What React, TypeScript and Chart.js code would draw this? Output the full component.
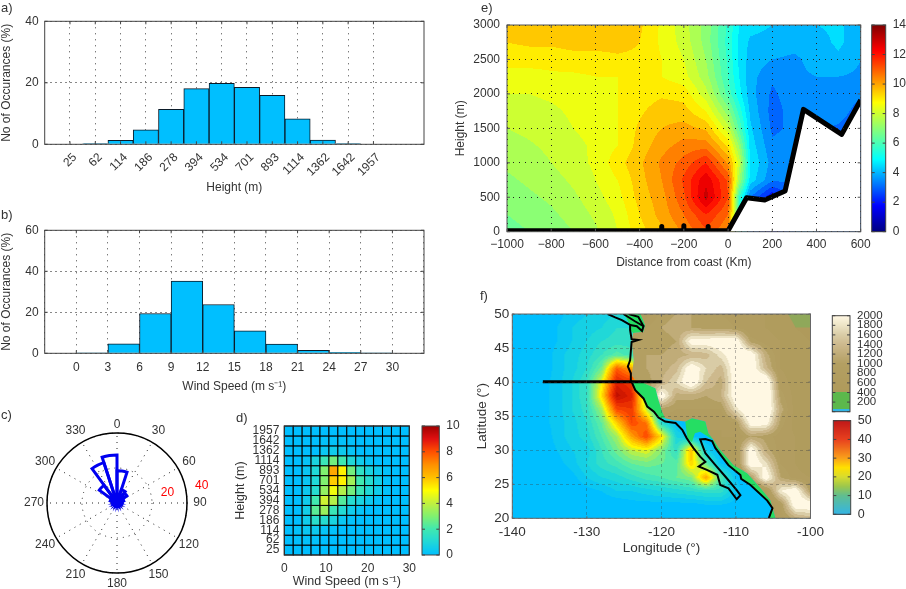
import React, { useEffect, useRef } from "react";
import { Chart, registerables } from "chart.js";

Chart.register(...registerables);

const PW = 906;
const PH = 589;
const FONT = "'Liberation Sans', Arial, Helvetica, sans-serif";
const INK = "#333333";
Chart.defaults.font.family = FONT;
Chart.defaults.color = INK;

// ---- a) height histogram
const heightBins = ["25", "62", "114", "186", "278", "394", "534", "701", "893", "1114", "1362", "1642", "1957"];
const heightPct = [0, 0.2, 1.3, 4.7, 11.4, 18.1, 19.8, 18.5, 15.9, 8.3, 1.4, 0.2, 0];

// ---- b) wind speed histogram
const speedBinCentres = [1.5, 4.5, 7.5, 10.5, 13.5, 16.5, 19.5, 22.5, 25.5, 28.5];
const speedPct = [0.2, 4.6, 19.4, 35.2, 23.8, 11, 4.5, 1.5, 0.5, 0.1];

// ---- c) wind rose, 18 degree bins clockwise from north
const roseBins = [0, 18, 36, 54, 72, 90, 108, 126, 144, 162, 180, 198, 216, 234, 252, 270, 288, 306, 324, 342];
const rosePct = [18.5, 8, 7, 4, 3, 2.5, 2.5, 2, 2, 2, 2, 2, 2, 2, 2.5, 2.5, 4, 12.5, 24.3, 27.5];
const roseSpokes = [0, 30, 60, 90, 120, 150, 180, 210, 240, 270, 300, 330];

// ---- d) joint occurrence, rows from 25 m upward, 14 speed columns
const jointRows = [
  [0, 0, 0, 0, 0, 0, 0, 0, 0, 0, 0, 0, 0, 0],
  [0, 0.05, 0.1, 0.1, 0, 0, 0, 0, 0, 0, 0, 0, 0, 0],
  [0, 0.1, 0.3, 0.4, 0.2, 0.1, 0, 0, 0, 0, 0, 0, 0, 0],
  [0, 0, 0.5, 1.3, 1.2, 0.8, 0.3, 0.1, 0, 0, 0, 0, 0, 0],
  [0, 0, 0.6, 2.4, 3.4, 1.8, 1.1, 0.5, 0.2, 0, 0, 0, 0, 0],
  [0, 0, 0.5, 2, 4.2, 3.8, 2.3, 1.2, 0.8, 0.4, 0.1, 0, 0, 0],
  [0, 0, 0.4, 1.2, 3.3, 4.8, 3.8, 2.8, 1.8, 1, 0.5, 0.1, 0, 0],
  [0, 0, 0.3, 1, 3, 5.8, 5.2, 3.5, 2, 1.2, 0.6, 0.1, 0, 0],
  [0, 0, 0.3, 1, 3, 6.5, 5.2, 2.8, 1.5, 0.8, 0.4, 0.1, 0, 0],
  [0, 0, 0.2, 0.8, 1.8, 2.8, 2, 1, 0.5, 0.2, 0, 0, 0, 0],
  [0, 0, 0, 0, 0.3, 0.5, 0.4, 0.2, 0, 0, 0, 0, 0, 0],
  [0, 0, 0, 0, 0.1, 0.1, 0.1, 0.1, 0, 0, 0, 0, 0, 0],
  [0, 0, 0, 0, 0, 0, 0, 0, 0, 0, 0, 0, 0, 0],
];

// ---- e) cross section
const sectionX = [-1000, -900, -800, -700, -600, -500, -400, -300, -200, -100, 0, 50, 100, 200, 300, 400, 500, 600];
const sectionY = [3000, 2750, 2500, 2250, 2000, 1750, 1500, 1250, 1000, 750, 500, 250, 0];
const sectionWind = [
  [9.7, 9.7, 9.7, 9.7, 9.7, 9.7, 9.6, 8.9, 8.2, 7.3, 5.9, 5.0, 4.7, 4.5, 4.2, 4.5, 4.6, 4.2],
  [9.5, 9.6, 9.6, 9.7, 9.7, 9.7, 9.5, 8.9, 8.3, 7.3, 5.8, 4.9, 4.4, 4.3, 4.2, 4.3, 4.6, 4.2],
  [9.2, 9.2, 9.2, 9.3, 9.3, 9.4, 9.4, 9.0, 8.5, 7.5, 5.9, 4.9, 4.3, 4.0, 3.9, 4.2, 4.4, 4.0],
  [8.8, 8.8, 8.9, 8.9, 9.0, 9.0, 9.1, 9.0, 8.7, 7.7, 6.0, 5.0, 4.2, 3.6, 3.9, 4.0, 4.0, 3.9],
  [8.5, 8.5, 8.6, 8.7, 8.8, 9.0, 9.2, 9.4, 9.3, 8.2, 6.3, 5.2, 4.2, 3.4, 3.8, 3.9, 3.9, 3.6],
  [8.25, 8.3, 8.4, 8.6, 8.8, 9.0, 9.4, 9.8, 9.7, 9.0, 7.2, 5.8, 4.4, 3.3, 3.7, 3.8, 3.8, 3.2],
  [8.0, 8.1, 8.25, 8.5, 8.7, 9.0, 9.6, 10.0, 10.2, 9.9, 8.2, 6.4, 4.6, 3.4, 3.6, 3.6, 3.4, 3.0],
  [7.85, 7.95, 8.1, 8.35, 8.6, 9.0, 9.7, 10.3, 10.7, 10.8, 9.4, 7.4, 4.8, 3.6, 3.7, 3.5, 3.3, 3.0],
  [7.6, 7.8, 8.0, 8.3, 8.6, 9.3, 9.9, 10.6, 11.2, 12.0, 10.4, 8.3, 5.0, 3.8, 3.7, 3.5, 3.3, 3.0],
  [7.4, 7.6, 7.8, 8.1, 8.5, 9.0, 9.8, 10.5, 11.6, 12.9, 11.4, 7.6, 4.8, 3.6, 3.6, 3.5, 3.3, 3.0],
  [7.2, 7.4, 7.6, 7.9, 8.3, 8.8, 9.7, 10.3, 11.4, 13.2, 11.5, 6.0, 3.5, 2.0, 3.5, 3.5, 3.3, 3.0],
  [7.0, 7.2, 7.4, 7.7, 8.1, 8.6, 9.5, 10.2, 11.0, 12.0, 11.0, 6.0, 3.5, 2.0, 3.5, 3.5, 3.3, 3.0],
  [6.8, 7.0, 7.2, 7.5, 7.9, 8.5, 9.3, 9.9, 10.6, 11.4, 10.5, 6.0, 3.5, 2.0, 3.5, 3.5, 3.3, 3.0],
];
const terrainX = [-1000, -300, -300, -300, -200, -200, -200, -90, -90, -90, 0, 84, 166, 258, 341, 514, 600];
const terrainH = [15, 15, 76, 15, 15, 85, 15, 15, 76, 15, 15, 494, 460, 590, 1775, 1413, 1911];

// ---- f) map
const mapLon = [-140, -138, -136, -134, -132, -130, -128, -126, -124, -122, -120, -118, -116, -114, -112, -110, -108, -106, -104, -102, -100];
const mapLat = [50, 48, 46, 44, 42, 40, 38, 36, 34, 32, 30, 28, 26, 24, 22, 20];
const mapWind = [
  [0, 0, 0, 1, 3, 4, 5, 6, 6, 4, 0, 0, 0, 0, 0, 0, 0, 0, 0, 0, 0],
  [0, 0, 0, 2, 4, 5, 6, 8, 8, 4, 0, 0, 0, 0, 0, 0, 0, 0, 0, 0, 0],
  [0, 0, 0, 2, 4, 6, 8, 9, 9, 4, 0, 0, 0, 0, 0, 0, 0, 0, 0, 0, 0],
  [0, 0, 0, 3, 5, 7, 10, 13, 11, 4, 0, 0, 0, 0, 0, 0, 0, 0, 0, 0, 0],
  [0, 0, 0, 3, 5, 8, 15, 36, 30, 4, 0, 0, 0, 0, 0, 0, 0, 0, 0, 0, 0],
  [0, 0, 1, 3, 6, 10, 22, 43, 40, 10, 0, 0, 0, 0, 0, 0, 0, 0, 0, 0, 0],
  [0, 0, 1, 3, 6, 10, 25, 47, 43, 15, 0, 0, 0, 0, 0, 0, 0, 0, 0, 0, 0],
  [0, 0, 1, 3, 6, 9, 18, 38, 40, 20, 4, 0, 0, 0, 0, 0, 0, 0, 0, 0, 0],
  [0, 0, 1, 3, 5, 8, 14, 26, 38, 34, 8, 2, 0, 0, 0, 0, 0, 0, 0, 0, 0],
  [0, 0, 0, 3, 5, 7, 12, 18, 30, 38, 25, 6, 2, 0, 0, 0, 0, 0, 0, 0, 0],
  [0, 0, 0, 2, 4, 5, 10, 15, 20, 22, 16, 9, 28, 4, 0, 0, 0, 0, 0, 0, 0],
  [0, 0, 0, 1, 3, 6, 9, 11, 14, 15, 14, 13, 26, 14, 2, 0, 0, 0, 0, 0, 0],
  [0, 0, 0, 0, 1, 4, 6, 7, 9, 11, 12, 14, 16, 30, 12, 2, 0, 0, 0, 0, 0],
  [0, 0, 0, 0, 0, 1, 2, 4, 4, 5, 6, 7, 8, 9, 9, 3, 0, 0, 0, 0, 0],
  [0, 0, 0, 0, 0, 0, 0, 0, 1, 1, 1, 1, 1, 2, 2, 1, 0, 0, 0, 0, 0],
  [0, 0, 0, 0, 0, 0, 0, 0, 0, 0, 0, 0, 0, 0, 0, 0, 0, 0, 0, 0, 0],
];
const landLon = [-124, -122, -120, -118, -116, -114, -112, -110, -108, -106, -104, -102, -100];
const landElev = [
  [700, 700, 1100, 1200, 1200, 1100, 1000, 900, 800, 800, 700, 600, 500],
  [700, 1000, 1200, 1300, 1200, 1100, 1100, 1000, 800, 800, 700, 600, 500],
  [1000, 1100, 1100, 1200, 2200, 2200, 2300, 2300, 1100, 900, 800, 700, 600],
  [1000, 1200, 1200, 1300, 1400, 1500, 1900, 2300, 2300, 1300, 800, 700, 600],
  [1000, 1200, 1300, 1500, 2300, 1800, 1500, 2300, 2300, 1500, 800, 700, 600],
  [900, 1100, 1400, 1800, 2400, 1600, 1300, 2300, 2500, 2500, 900, 700, 600],
  [600, 800, 2300, 1300, 1300, 1200, 1400, 2300, 2500, 2500, 1100, 700, 600],
  [500, 500, 1100, 1000, 1000, 1000, 1000, 1900, 2500, 2500, 1300, 700, 600],
  [500, 500, 800, 900, 900, 900, 800, 1000, 2200, 2200, 1100, 700, 600],
  [500, 500, 500, 500, 700, 700, 800, 800, 1200, 1100, 900, 800, 700],
  [500, 500, 500, 500, 500, 500, 600, 800, 2300, 1300, 900, 800, 600],
  [500, 500, 500, 500, 500, 500, 500, 700, 2300, 1900, 1000, 800, 600],
  [500, 500, 500, 500, 500, 500, 500, 500, 1100, 2300, 1200, 900, 800],
  [500, 500, 500, 500, 500, 500, 500, 500, 500, 700, 2000, 2300, 1100],
  [500, 500, 500, 500, 500, 500, 500, 500, 500, 500, 1000, 2300, 2300],
  [500, 500, 500, 500, 500, 500, 500, 500, 500, 500, 900, 1300, 1500],
];
const coastLon = [-127.2, -126.2, -125.3, -124.2, -124.2, -124, -123.1, -124, -124.2, -124.5, -124.1, -124.1, -123.5, -122.4, -121.9, -121, -120.4, -119.5, -118.1, -117.2, -116.6, -115.7, -114.8, -114.1, -115, -113.9, -112.5, -112.1, -111, -109.9, -109.4, -109.9, -111.4, -112.75, -114.1, -114.8, -114.1, -113.2, -112.75, -111, -109.4, -109.3, -108.05, -105.8, -105.1, -105.6];
const coastLat = [50, 49.5, 49.1, 48.4, 47.65, 46.3, 46.2, 45.9, 43.2, 42.3, 41.3, 40.3, 38.8, 37.6, 36.4, 35.65, 34.8, 34.2, 34, 33, 31.75, 30.3, 29.05, 28.3, 27.6, 27.1, 26.4, 24.9, 24.4, 22.8, 23.4, 24.15, 26.1, 27.8, 29.55, 31.6, 31.65, 31.35, 30.3, 27.8, 26.35, 25.8, 24.9, 22.6, 21.5, 20];
const inletLon = [-125.1, -123.5, -122.4, -122.6, -123.3, -124.2];
const inletLat = [50, 48.9, 48.2, 47.5, 48.2, 48.4];
const inlet2Lon = [-124.4, -123.1, -122.4];
const inlet2Lat = [50, 49.6, 48.2];
const transectLon = [-135.9, -119.9];
const transectLat = [40.05, 40.05];
const tanEdge: number[][] = [[-122.8, 50], [-122.2, 48.4], [-122.4, 47.4], [-123.8, 47.2], [-124, 46], [-123.7, 43.2], [-124, 41], [-123.5, 40.3], [-122.8, 40.05], [-120.8, 39.1], [-120.4, 37.4], [-119.9, 35.65], [-119.5, 34.7], [-118.4, 34.4], [-116.8, 34.2], [-115.9, 34.7], [-114.1, 34.2], [-113.7, 32.5], [-113, 31.5], [-112.3, 30.3], [-110.3, 27.8], [-108.5, 26.6], [-106.7, 24.4], [-105.4, 22.7], [-104.7, 20], [-100, 20], [-100, 50]];
const lowlands: number[][][] = [
  [[-125, 50], [-122.8, 50], [-122.2, 48.4], [-122.4, 47.4], [-123.8, 47.2], [-124.2, 47.7], [-124.2, 48.4]],
  [[-124.1, 40.3], [-122.8, 40.05], [-120.8, 39.1], [-120.4, 37.4], [-119.9, 35.65], [-119.5, 34.7], [-120.4, 34.8], [-121, 35.65], [-121.9, 36.4], [-122.4, 37.6], [-123.5, 38.8]],
  [[-116.8, 34.2], [-115.9, 34.7], [-114.1, 34.2], [-113.7, 32.5], [-113, 31.5], [-114.8, 32.7], [-115.5, 32.5], [-115.9, 31.2], [-116.5, 31.75]],
  [[-113, 31.5], [-112.3, 30.3], [-110.3, 27.8], [-108.5, 26.6], [-106.7, 24.4], [-105.4, 22.7], [-104.7, 20], [-105.6, 20], [-105.1, 21.5], [-105.8, 22.6], [-108.05, 24.9], [-109.3, 25.8], [-109.4, 26.35], [-111, 27.8], [-112.75, 30.3], [-113.2, 31.35]],
  [[-101.5, 30], [-100, 30.2], [-100, 26.2], [-100.8, 27.5]],
  [[-120.7, 47.2], [-119.7, 47.9], [-118.7, 47.2], [-119.7, 46.5]],
];
const prairie: number[][] = [[-103, 50], [-100, 50], [-100, 48], [-102, 48]];

// ---- colour tables: [value, hex]
type Stop = [number, string];
const jetStops: Stop[] = [[0, "#000080"], [1.75, "#0000ff"], [4.9, "#00ffff"], [8.75, "#ffff00"], [12.25, "#ff0000"], [14, "#800000"]];
const jointStops: Stop[] = [[0, "#00bfff"], [1, "#20d8d8"], [2, "#40e8b0"], [3, "#80f070"], [4, "#c0f040"], [5, "#ffff00"], [6, "#ffc000"], [7, "#ff9000"], [8, "#ff5000"], [9, "#e01010"], [10, "#a00000"]];
const windStops: Stop[] = [[0, "#00bfff"], [6, "#20d8d8"], [12, "#55eba8"], [18, "#b0f050"], [22, "#fff500"], [28, "#ffb000"], [36, "#ff5000"], [42, "#e02000"], [50, "#a00000"]];
const windBarStops: Stop[] = [[0, "#33b5e5"], [10, "#60be8f"], [15, "#9dc74b"], [20, "#d8dc2e"], [25, "#ffe000"], [30, "#f9a01a"], [40, "#e8401e"], [50, "#c01818"]];
const landStops: Stop[] = [[400, "#af9a5b"], [1000, "#b39f62"], [1200, "#c0ac78"], [1400, "#cdb98d"], [1600, "#d9cca6"], [1800, "#ede4c6"], [2000, "#fff8e3"]];
const elevBarStops: Stop[] = [[0, "#33b5e5"], [50, "#33b5e5"], [50, "#5cb84c"], [400, "#5cb84c"], [400, "#af9a5b"], [1000, "#b39f62"], [1200, "#c0ac78"], [1400, "#cdb98d"], [1600, "#d9cca6"], [1800, "#ede4c6"], [2000, "#fff8e3"]];

function rgb(hex: string): number[] {
  return [parseInt(hex.slice(1, 3), 16), parseInt(hex.slice(3, 5), 16), parseInt(hex.slice(5, 7), 16)];
}
function colourAt(stops: Stop[], v: number): number[] {
  if (v <= stops[0][0]) return rgb(stops[0][1]);
  for (let i = 1; i < stops.length; i++) {
    if (v <= stops[i][0]) {
      const [a, ca] = stops[i - 1];
      const [b, cb] = stops[i];
      const t = b === a ? 1 : (v - a) / (b - a);
      const p = rgb(ca);
      const q = rgb(cb);
      return [p[0] + (q[0] - p[0]) * t, p[1] + (q[1] - p[1]) * t, p[2] + (q[2] - p[2]) * t];
    }
  }
  return rgb(stops[stops.length - 1][1]);
}
function css(c: number[]) {
  return `rgb(${Math.round(c[0])},${Math.round(c[1])},${Math.round(c[2])})`;
}
function seg(a: number[], v: number): [number, number] {
  const n = a.length;
  const asc = a[n - 1] > a[0];
  for (let i = 0; i < n - 1; i++) {
    const lo = a[i];
    const hi = a[i + 1];
    if (asc ? v <= hi : v >= hi) {
      const t = (v - lo) / (hi - lo);
      return [i, Math.max(0, Math.min(1, t))];
    }
  }
  return [n - 2, 1];
}
function sample(xs: number[], ys: number[], rows: number[][], x: number, y: number) {
  const [i, tx] = seg(xs, x);
  const [j, ty] = seg(ys, y);
  const top = rows[j][i] * (1 - tx) + rows[j][i + 1] * tx;
  const bot = rows[j + 1][i] * (1 - tx) + rows[j + 1][i + 1] * tx;
  return top * (1 - ty) + bot * ty;
}
function paintField(chart: any, xs: number[], ys: number[], rows: number[][], stops: Stop[], step: number) {
  const { left, top, width, height } = chart.chartArea;
  const w = Math.ceil(width);
  const h = Math.ceil(height);
  const off = document.createElement("canvas");
  off.width = w;
  off.height = h;
  const octx = off.getContext("2d")!;
  const img = octx.createImageData(w, h);
  const sx = chart.scales.x;
  const sy = chart.scales.y;
  for (let py = 0; py < h; py++) {
    const vy = sy.getValueForPixel(top + py + 0.5);
    for (let px = 0; px < w; px++) {
      const vx = sx.getValueForPixel(left + px + 0.5);
      const v = sample(xs, ys, rows, vx, vy);
      const c = colourAt(stops, Math.floor(v / step) * step);
      const k = (py * w + px) * 4;
      img.data[k] = c[0];
      img.data[k + 1] = c[1];
      img.data[k + 2] = c[2];
      img.data[k + 3] = 255;
    }
  }
  octx.putImageData(img, 0, 0);
  return off;
}
function gridPoints(xs: number[], ys: number[], rows: number[][]) {
  const out: any[] = [];
  rows.forEach((r, j) => r.forEach((v, i) => out.push({ x: xs[i], y: ys[j], v })));
  return out;
}
function zipXY(xs: number[], ys: number[]) {
  return xs.map((x, i) => ({ x, y: ys[i] }));
}
function tracePoly(chart: any, poly: number[][]) {
  const ctx = chart.ctx;
  ctx.beginPath();
  poly.forEach(([lon, lat], i) => {
    const x = chart.scales.x.getPixelForValue(lon);
    const y = chart.scales.y.getPixelForValue(lat);
    if (i) ctx.lineTo(x, y);
    else ctx.moveTo(x, y);
  });
  ctx.closePath();
}

// ---- plugins
function framePlugin(colour: string, tick = 3) {
  return {
    id: "frame",
    afterDraw(chart: any) {
      const { ctx, chartArea: a } = chart;
      ctx.save();
      ctx.strokeStyle = colour;
      ctx.lineWidth = 1;
      ctx.strokeRect(a.left, a.top, a.right - a.left, a.bottom - a.top);
      if (tick > 0) {
        const sx = chart.scales.x;
        const sy = chart.scales.y;
        ctx.beginPath();
        if (sx && sx.options.display) {
          sx.ticks.forEach((t: any, i: number) => {
            if (t.label === "") return;
            const x = sx.getPixelForTick(i);
            ctx.moveTo(x, a.bottom);
            ctx.lineTo(x, a.bottom - tick);
            ctx.moveTo(x, a.top);
            ctx.lineTo(x, a.top + tick);
          });
        }
        if (sy) {
          sy.ticks.forEach((t: any, i: number) => {
            const y = sy.getPixelForTick(i);
            ctx.moveTo(a.left, y);
            ctx.lineTo(a.left + tick, y);
            ctx.moveTo(a.right, y);
            ctx.lineTo(a.right - tick, y);
          });
        }
        ctx.stroke();
      }
      ctx.restore();
    },
  };
}
function colourbarPlugin(stops: Stop[]) {
  return {
    id: "colourbar",
    beforeDraw(chart: any) {
      const { ctx, chartArea: a } = chart;
      const sy = chart.scales.y;
      for (let py = Math.floor(a.top); py < a.bottom; py++) {
        ctx.fillStyle = css(colourAt(stops, sy.getValueForPixel(py + 0.5)));
        ctx.fillRect(a.left, py, a.right - a.left, 1);
      }
    },
  };
}
const cellPlugin = {
  id: "cells",
  beforeDraw(chart: any) {
    const { ctx } = chart;
    const sx = chart.scales.x;
    const sy = chart.scales.y;
    const cells = chart.data.datasets[0].data;
    const dx = 30 / jointRows[0].length;
    ctx.save();
    ctx.strokeStyle = "#000";
    ctx.lineWidth = 1;
    cells.forEach((c: any) => {
      const x0 = sx.getPixelForValue(c.x - dx / 2);
      const x1 = sx.getPixelForValue(c.x + dx / 2);
      const y0 = sy.getPixelForValue(c.y + 0.5);
      const y1 = sy.getPixelForValue(c.y - 0.5);
      ctx.fillStyle = css(colourAt(jointStops, c.v));
      ctx.fillRect(x0, y0, x1 - x0, y1 - y0);
      ctx.strokeRect(x0, y0, x1 - x0, y1 - y0);
    });
    ctx.restore();
  },
};
const sectionPlugin = {
  id: "section",
  beforeDraw(chart: any) {
    const off = paintField(chart, sectionX, sectionY, sectionWind, jetStops, 0.5);
    chart.ctx.drawImage(off, chart.chartArea.left, chart.chartArea.top);
  },
};
const mapPlugin = {
  id: "map",
  beforeDraw(chart: any) {
    const { ctx, chartArea: a } = chart;
    const sea = paintField(chart, mapLon, mapLat, mapWind, windStops, 2);
    const land = paintField(chart, landLon, mapLat, landElev, landStops, 200);
    ctx.save();
    ctx.beginPath();
    ctx.rect(a.left, a.top, a.right - a.left, a.bottom - a.top);
    ctx.clip();
    ctx.drawImage(sea, a.left, a.top);
    lowlands.forEach((p) => {
      tracePoly(chart, p);
      ctx.fillStyle = "#25de63";
      ctx.fill();
    });
    ctx.save();
    tracePoly(chart, tanEdge);
    ctx.clip();
    ctx.drawImage(land, a.left, a.top);
    ctx.restore();
    tracePoly(chart, prairie);
    ctx.fillStyle = "#8fa85a";
    ctx.fill();
    ctx.restore();
  },
};
const rosePlugin = {
  id: "rose",
  beforeDatasetsDraw(chart: any) {
    const { ctx } = chart;
    const r = chart.scales.r;
    const R = r.getDistanceFromCenterForValue(40);
    ctx.save();
    ctx.strokeStyle = "#222";
    ctx.lineWidth = 1;
    ctx.setLineDash([1, 5]);
    roseSpokes.forEach((d) => {
      const t = (d * Math.PI) / 180;
      ctx.beginPath();
      ctx.moveTo(r.xCenter, r.yCenter);
      ctx.lineTo(r.xCenter + R * Math.sin(t), r.yCenter - R * Math.cos(t));
      ctx.stroke();
    });
    ctx.restore();
  },
  afterDraw(chart: any) {
    const { ctx } = chart;
    const r = chart.scales.r;
    const R = r.getDistanceFromCenterForValue(40);
    ctx.save();
    ctx.strokeStyle = "#000";
    ctx.lineWidth = 1.5;
    ctx.beginPath();
    ctx.arc(r.xCenter, r.yCenter, R, 0, Math.PI * 2);
    ctx.stroke();
    ctx.font = `12px ${FONT}`;
    ctx.textAlign = "center";
    ctx.textBaseline = "middle";
    ctx.fillStyle = INK;
    roseSpokes.forEach((d) => {
      const t = (d * Math.PI) / 180;
      const gap = d === 0 ? 8 : d === 180 ? 11 : 13;
      ctx.fillText(String(d), r.xCenter + (R + gap) * Math.sin(t), r.yCenter - (R + gap) * Math.cos(t));
    });
    ctx.fillStyle = "#ff0000";
    [20, 40].forEach((v) => {
      const d = r.getDistanceFromCenterForValue(v) + 16.5;
      const t = (78.5 * Math.PI) / 180;
      ctx.fillText(String(v), r.xCenter + d * Math.sin(t), r.yCenter - d * Math.cos(t));
    });
    ctx.restore();
  },
};

// ---- layout helpers
type Box = { x0: number; y0: number; x1: number; y1: number };
function fixedX(h: number) {
  return (s: any) => {
    s.height = h;
    s.paddingLeft = s.paddingRight = 0;
  };
}
function fixedY(w: number) {
  return (s: any) => {
    s.width = w;
    s.paddingTop = s.paddingBottom = 0;
  };
}
function base(b: Box, size: number, yTitle: string, xTitle: string, yTitleX: number, xTitleY: number) {
  const lh = size * 1.2;
  const left = yTitleX - lh / 2;
  const bottom = xTitleY + lh / 2;
  const font = { family: FONT, size, lineHeight: 1.2 };
  return {
    padding: { left, top: b.y0, right: PW - b.x1, bottom: PH - bottom },
    x: {
      afterFit: fixedX(bottom - b.y1),
      title: { display: true, text: xTitle, font, padding: 0, color: INK },
    },
    y: {
      afterFit: fixedY(b.x0 - left),
      title: { display: true, text: yTitle, font, padding: 0, color: INK },
    },
  };
}
const commonOpts = {
  responsive: false,
  animation: false as const,
  events: [] as string[],
};
const noPlugins = { legend: { display: false }, tooltip: { enabled: false } };
const dotted = { display: false, dash: [1, 5] };

// ---- chart configs
function histA(): any {
  const b = { x0: 44.7, y0: 21.3, x1: 424, y1: 144.3 };
  const l = base(b, 12, "No of Occurances (%)", "Height (m)", 6.5, 188);
  return {
    type: "bar",
    data: {
      datasets: [{
        data: heightPct.map((y, i) => ({ x: i, y })),
        backgroundColor: "#00bfff",
        borderColor: "#0a1a28",
        borderWidth: 1,
        barPercentage: 1,
        categoryPercentage: 1,
      }],
    },
    options: {
      ...commonOpts,
      layout: { padding: l.padding },
      plugins: noPlugins,
      scales: {
        x: {
          ...l.x, type: "linear", offset: false, min: -1, max: 14,
          border: dotted,
          grid: { offset: false, drawTicks: false, color: (c: any) => (c.tick && c.tick.label ? "#444" : "rgba(0,0,0,0)") },
          ticks: {
            stepSize: 1, autoSkip: false, maxRotation: 45, minRotation: 45, padding: 6, labelOffset: 5, font: { size: 12 },
            callback: (v: number) => heightBins[v] ?? "",
          },
        },
        y: {
          ...l.y, min: 0, max: 40, border: { display: false, dash: [2, 3] },
          grid: { drawTicks: false, color: "#888" },
          ticks: { stepSize: 20, padding: 6, font: { size: 12 } },
        },
      },
    },
    plugins: [framePlugin("#444")],
  };
}
function histB(): any {
  const b = { x0: 44.7, y0: 230.3, x1: 424, y1: 353.3 };
  const l = base(b, 12, "No of Occurances (%)", "Wind Speed (m s⁻¹)", 6.5, 387);
  return {
    type: "bar",
    data: {
      datasets: [{
        data: speedBinCentres.map((x, i) => ({ x, y: speedPct[i] })),
        backgroundColor: "#00bfff",
        borderColor: "#0a1a28",
        borderWidth: 1,
        barPercentage: 1,
        categoryPercentage: 1,
      }],
    },
    options: {
      ...commonOpts,
      layout: { padding: l.padding },
      plugins: noPlugins,
      scales: {
        x: {
          ...l.x, type: "linear", offset: false, min: -3, max: 33,
          border: dotted,
          grid: { offset: false, drawTicks: false, color: "#444" },
          ticks: {
            stepSize: 3, autoSkip: false, maxRotation: 0, padding: 7, font: { size: 12 },
            callback: (v: number) => (v < 0 || v > 30 ? "" : String(v)),
          },
        },
        y: {
          ...l.y, min: 0, max: 60, border: { display: false, dash: [2, 3] },
          grid: { drawTicks: false, color: "#888" },
          ticks: { stepSize: 20, padding: 6, font: { size: 12 } },
        },
      },
    },
    plugins: [framePlugin("#444")],
  };
}
function roseC(): any {
  const cx = 117;
  const cy = 503;
  const R = 70;
  return {
    type: "polarArea",
    data: {
      labels: roseBins.map(String),
      datasets: [{
        data: rosePct,
        backgroundColor: "rgba(0,0,0,0)",
        borderColor: "#0000f0",
        borderWidth: 3,
        borderJoinStyle: "miter",
      }],
    },
    options: {
      ...commonOpts,
      layout: { padding: { left: cx - R, top: cy - R, right: PW - cx - R, bottom: PH - cy - R } },
      plugins: noPlugins,
      scales: {
        r: {
          min: 0, max: 40,
          angleLines: { display: false },
          pointLabels: { display: false },
          border: { dash: [1, 5] },
          grid: { color: "#222" },
          ticks: { display: false, stepSize: 20 },
        },
      },
    },
    plugins: [rosePlugin],
  };
}
function heatD(): any {
  const b = { x0: 284.3, y0: 426, x1: 409.3, y1: 555 };
  const l = base(b, 12.5, "Height (m)", "Wind Speed (m s⁻¹)", 241, 582);
  const dx = 30 / jointRows[0].length;
  const cells: any[] = [];
  jointRows.forEach((r, j) => r.forEach((v, i) => cells.push({ x: (i + 0.5) * dx, y: j + 0.5, v })));
  return {
    type: "scatter",
    data: { datasets: [{ data: cells, pointRadius: 0 }] },
    options: {
      ...commonOpts,
      layout: { padding: l.padding },
      plugins: noPlugins,
      scales: {
        x: {
          ...l.x, type: "linear", min: 0, max: 30, border: { display: false },
          grid: { display: false, drawTicks: false },
          ticks: { stepSize: 10, padding: 6, maxRotation: 0, font: { size: 12 }, callback: (v: number) => String(v) },
        },
        y: {
          ...l.y, type: "linear", min: 0, max: 13, border: { display: false },
          grid: { display: false, drawTicks: false },
          afterBuildTicks: (s: any) => {
            s.ticks = heightBins.map((_, i) => ({ value: i + 0.5 }));
          },
          ticks: {
            autoSkip: false, padding: 5, font: { size: 12 },
            callback: (v: number) => heightBins[Math.floor(v)],
          },
        },
      },
    },
    plugins: [cellPlugin, framePlugin("#333", 0)],
  };
}
function colourbar(b: Box, stops: Stop[], min: number, max: number, step: number, size: number, padding: number, hideZero = false): any {
  return {
    type: "scatter",
    data: { datasets: [{ data: [], pointRadius: 0 }] },
    options: {
      ...commonOpts,
      layout: { padding: { left: b.x0, top: b.y0, right: PW - b.x1 - 45, bottom: PH - b.y1 } },
      plugins: noPlugins,
      scales: {
        x: { display: false, min: 0, max: 1 },
        y: {
          position: "right", min, max,
          afterFit: fixedY(45),
          border: { display: false },
          grid: { display: false, drawTicks: false },
          ticks: {
            stepSize: step, autoSkip: false, padding, font: { size },
            callback: (v: number) => (hideZero && v === 0 ? "" : String(v)),
          },
        },
      },
    },
    plugins: [colourbarPlugin(stops), framePlugin("#444")],
  };
}
function sectionE(): any {
  const b = { x0: 507, y0: 25, x1: 860.7, y1: 231.7 };
  const l = base(b, 12, "Height (m)", "Distance from coast (Km)", 461, 263);
  return {
    type: "line",
    data: {
      datasets: [
        { data: gridPoints(sectionX, sectionY, sectionWind), showLine: false, pointRadius: 0 },
        {
          data: zipXY(terrainX, terrainH),
          borderColor: "#000",
          borderWidth: 5,
          borderJoinStyle: "round",
          pointRadius: 0,
          tension: 0,
          fill: { value: 0 },
          backgroundColor: "#fff",
          clip: 0,
        },
      ],
    },
    options: {
      ...commonOpts,
      layout: { padding: l.padding },
      plugins: noPlugins,
      scales: {
        x: {
          ...l.x, type: "linear", min: -1000, max: 600, border: dotted,
          grid: { drawTicks: false, color: "#222", z: 1 },
          ticks: { stepSize: 200, padding: 6, maxRotation: 0, font: { size: 12 }, callback: (v: number) => String(v).replace("-", "\u2212") },
        },
        y: {
          ...l.y, type: "linear", min: 0, max: 3000, border: dotted,
          grid: { drawTicks: false, color: "#222", z: 1 },
          ticks: { stepSize: 500, padding: 7, font: { size: 12 }, callback: (v: number) => String(v) },
        },
      },
    },
    plugins: [sectionPlugin, framePlugin("#555")],
  };
}
function mapF(): any {
  const b = { x0: 512.3, y0: 314, x1: 810.5, y1: 518.3 };
  const l = base(b, 13.5, "Latitude (°)", "Longitude (°)", 482.7, 548);
  const line = (xs: number[], ys: number[], w: number) => ({
    data: zipXY(xs, ys), borderColor: "#000", borderWidth: w, pointRadius: 0, tension: 0, fill: false,
  });
  const gridCol = "rgba(60,60,60,0.35)";
  return {
    type: "line",
    data: {
      datasets: [
        { data: gridPoints(mapLon, mapLat, mapWind), showLine: false, pointRadius: 0 },
        line(coastLon, coastLat, 2),
        line(inletLon, inletLat, 2),
        line(inlet2Lon, inlet2Lat, 2),
        line(transectLon, transectLat, 3),
      ],
    },
    options: {
      ...commonOpts,
      layout: { padding: l.padding },
      plugins: noPlugins,
      scales: {
        x: {
          ...l.x, type: "linear", min: -140, max: -100, border: { display: false, dash: [3, 3] },
          grid: { drawTicks: false, color: gridCol, z: 1 },
          ticks: { stepSize: 10, padding: 6, maxRotation: 0, font: { size: 13.5 }, callback: (v: number) => String(v) },
        },
        y: {
          ...l.y, type: "linear", min: 20, max: 50, border: { display: false, dash: [3, 3] },
          grid: { drawTicks: false, color: gridCol, z: 1 },
          ticks: { stepSize: 5, padding: 3, font: { size: 13.5 }, callback: (v: number) => String(v) },
        },
      },
    },
    plugins: [mapPlugin, framePlugin("#666", 2)],
  };
}

const builders: (() => any)[] = [
  histA,
  histB,
  roseC,
  heatD,
  () => colourbar({ x0: 422, y0: 426, x1: 439.3, y1: 555 }, jointStops, 0, 10, 2, 12, 7),
  sectionE,
  () => colourbar({ x0: 871.7, y0: 25, x1: 885.7, y1: 231.7 }, jetStops, 0, 14, 2, 12, 7),
  mapF,
  () => colourbar({ x0: 832.3, y0: 315.7, x1: 850, y1: 411.7 }, elevBarStops, 0, 2000, 200, 11.5, 7, true),
  () => colourbar({ x0: 833.3, y0: 420.7, x1: 850.7, y1: 514.3 }, windBarStops, 0, 50, 10, 12.5, 7),
];

const panelTags: [string, number, number][] = [
  ["a)", 1, 0],
  ["b)", 1, 207],
  ["c)", 1, 407],
  ["d)", 236, 410],
  ["e)", 481, 0],
  ["f)", 480, 288],
];

function Panel({ build }: { build: () => any }) {
  const ref = useRef<HTMLCanvasElement | null>(null);
  useEffect(() => {
    const chart = new Chart(ref.current!, build());
    return () => chart.destroy();
  }, [build]);
  return <canvas ref={ref} width={PW} height={PH} style={{ position: "absolute", left: 0, top: 0, width: PW, height: PH }} />;
}

export default function App() {
  return (
    <div style={{ position: "absolute", left: 0, top: 0, width: PW, height: PH, background: "#fff", overflow: "hidden" }}>
      {builders.map((b, i) => (
        <Panel key={i} build={b} />
      ))}
      {panelTags.map(([t, x, y]) => (
        <div key={t} style={{ position: "absolute", left: x, top: y, font: `13px ${FONT}`, color: INK }}>
          {t}
        </div>
      ))}
    </div>
  );
}
